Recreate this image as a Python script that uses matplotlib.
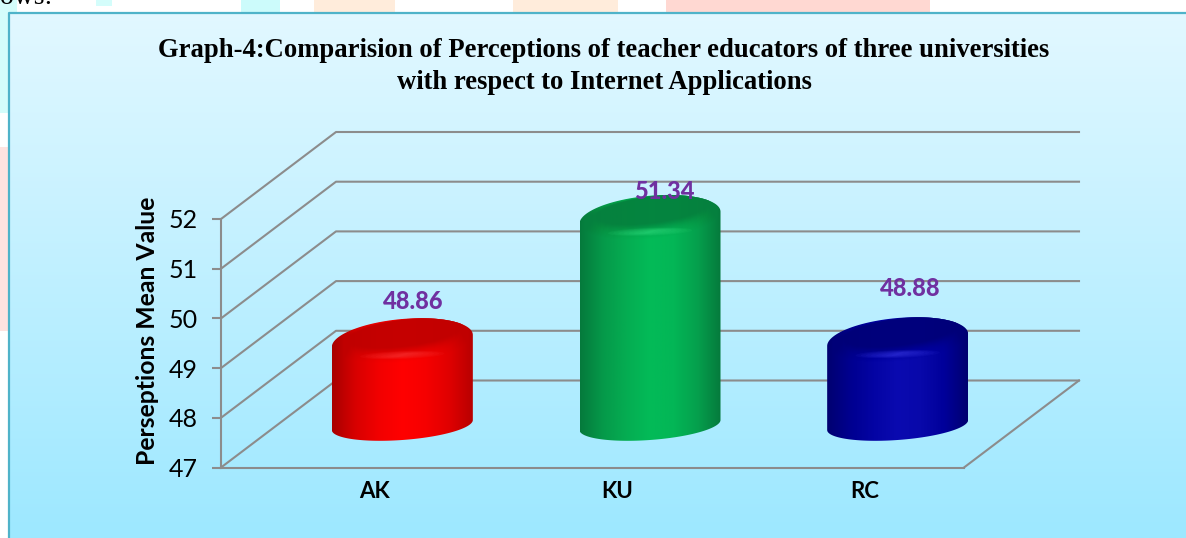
import numpy as np
import matplotlib
matplotlib.use("Agg")
import matplotlib.pyplot as plt
from matplotlib.colors import LinearSegmentedColormap
from matplotlib.patches import Polygon, Rectangle

W, H = 1186, 538

categories = ["AK", "KU", "RC"]
values = [48.86, 51.34, 48.88]
value_labels = ["48.86", "51.34", "48.88"]
y_ticks = [47, 48, 49, 50, 51, 52]
title = ("Graph-4:Comparision of Perceptions of teacher educators of three universities\n"
         "with respect to Internet Applications")
y_label = "Perseptions Mean Value"

plt.rcParams['font.family'] = ['Lato', 'DejaVu Sans']

fig = plt.figure(figsize=(W / 100, H / 100), dpi=100, facecolor="white")

# whole figure in pixels, for the page behind and the chart background
bg = fig.add_axes([0, 0, 1, 1])
bg.set_xlim(0, W)
bg.set_ylim(H, 0)
bg.axis("off")

for x0, x1, y0, y1, c in [(0, 8, 0, 113, "#d4fdfb"), (8, 17, 0, 13, "#d4fdfb"), (96, 112, 0, 6, "#d4fdfb"),
                          (241, 280, 0, 13, "#ccfbfb"), (314, 395, 0, 13, "#ffecdb"),
                          (513, 618, 0, 13, "#ffecdb"), (666, 930, 0, 13, "#ffd8d2"),
                          (0, 8, 147, 331, "#ffe3e0")]:
    bg.add_patch(Rectangle((x0, y0), x1 - x0, y1 - y0, fc=c, ec="none"))
bg.text(0, 4, "ows:", family="Liberation Serif", fontsize=20, color="black", va="baseline")

grad = LinearSegmentedColormap.from_list("bg", ["#e2f8ff", "#9de8ff"])
bg.imshow(np.linspace(0, 1, 256)[:, None], cmap=grad, aspect="auto",
          extent=(8, W, H, 13), zorder=1)
bg.plot([8.5, 8.5, W], [H, 12.5, 12.5], color="#4fb3c9", lw=1.6, zorder=2)
bg.set_xlim(0, W)
bg.set_ylim(H, 0)

# front plane of the chart: value scale is the real y axis
left, right, top, bottom = 221, 964, 219, 467.5
ax = fig.add_axes([left / W, 1 - bottom / H, (right - left) / W, (bottom - top) / H])
ax.patch.set_alpha(0)
ax.set_xlim(-0.5, 2.5)
ax.set_ylim(47, 52)
ax.set_xticks([i + off for i, off in enumerate([0.121, 0.099, 0.101])])
ax.set_xticklabels(categories, fontsize=16, fontweight="bold")
ax.set_yticks(y_ticks)
ax.tick_params(axis="y", labelsize=18, length=6.5, width=1.5, color="#8c8c8c", pad=10)
ax.tick_params(axis="x", length=0, pad=10)
ax.set_ylabel(y_label, fontsize=17.8, fontweight="bold")
ax.yaxis.set_label_coords(-62 / (right - left), 0.55)
for s in ["top", "right"]:
    ax.spines[s].set_visible(False)
for s in ["left", "bottom"]:
    ax.spines[s].set_color("#8c8c8c")
    ax.spines[s].set_linewidth(1.5)

ux = (right - left) / 3      # px per category
uy = (bottom - top) / 5      # px per value
# depth of the box, in data units
dx = 115 / ux
dy = 87 / uy

grid_c = "#8c8c8c"
for v in y_ticks:
    ax.plot([-0.5, -0.5 + dx, 2.5 + dx], [v, v + dy, v + dy], color=grid_c, lw=1.5,
            clip_on=False, zorder=1)
ax.plot([2.5, 2.5 + dx], [47, 47 + dy], color=grid_c, lw=1.5, clip_on=False, zorder=1)


def ellipse(cx, cy, a=70.5, b=22.0, tilt=6.0, n=200, t0=0, t1=2 * np.pi):
    # tilted ellipse, sizes in pixels, centre in data units
    t = np.linspace(t0, t1, n)
    xs = cx + a * np.cos(t) / ux
    ys = cy + (b * np.sin(t) + tilt * np.cos(t)) / uy
    return np.column_stack([xs, ys])


def bar3d(cx, val, side, top_c, glow):
    base = 47 + dy / 2 - 0.02
    top_y = val + dy / 2 - 0.19
    # body outline: upper half of top ellipse and lower half of bottom one
    up = ellipse(cx, top_y, t0=0, t1=np.pi)
    low = ellipse(cx, base, b=15, tilt=5, t0=np.pi, t1=2 * np.pi)
    cmap = LinearSegmentedColormap.from_list("side", side)
    body = Polygon(np.vstack([up, low]), closed=True, fc="none", ec="none", clip_on=False)
    ax.add_patch(body)
    im = ax.imshow(np.linspace(0, 1, 256)[None, :], cmap=cmap, aspect="auto", zorder=3,
                   extent=(cx - 70.5 / ux, cx + 70.5 / ux, base - 1, top_y + 1))
    im.set_clip_box(fig.bbox)
    im.set_clip_path(body)
    # bevel round the rim fading into the darker top face
    n = 14
    for i in range(n):
        f = (i + 1) / n
        pts = ellipse(cx + 3 * f / ux, top_y + 8 * f / uy, a=70.5 - 14 * f, b=22 - 8.5 * f, tilt=6 + f)
        p = Polygon(pts, closed=True, fc=top_c, alpha=0.02 + 0.40 * f ** 3, ec="none", zorder=4)
        ax.add_patch(p)
        p.set_clip_box(fig.bbox)
        p.set_clip_path(body)
    # small highlight on the front of the bevel
    for i in range(8):
        f = i / 7
        pts = ellipse(cx, top_y - 14 / uy, a=42 - 36 * f, b=4.0 - 3.0 * f, tilt=1.5)
        ax.add_patch(Polygon(pts, closed=True, fc=glow, alpha=0.07, ec="none", zorder=5, clip_on=False))


bar_styles = [
    (["#a80000", "#d80000", "#f20000", "#ff0000", "#f60000", "#e00000", "#b80000"], "#c00000", "#ff5050"),
    (["#067a3c", "#059a4a", "#05ad52", "#03bb58", "#03b656", "#05a04d", "#067a3c"], "#06803e", "#40f090"),
    (["#000070", "#000090", "#0404a4", "#0a0ab0", "#0808aa", "#00009a", "#000070"], "#000078", "#5050ff"),
]
label_dx = [0.043, 0.056, 0.049]
label_y = [50.35, 52.56, 50.61]
for i, v in enumerate(values):
    cx = i + dx / 2
    bar3d(cx, v, *bar_styles[i])
    ax.text(cx + label_dx[i], label_y[i], value_labels[i], color="#7030a0", fontsize=17,
            fontweight=900, ha="center", va="center", zorder=8, clip_on=False)

ax.set_xlim(-0.5, 2.5)
ax.set_ylim(47, 52)

fig.text(604 / W, 1 - 66.5 / H, title, family="Liberation Serif", fontweight="bold", fontsize=19.2,
         ha="center", va="center", linespacing=1.33, color="black")

fig.savefig("out.png", dpi=100)
